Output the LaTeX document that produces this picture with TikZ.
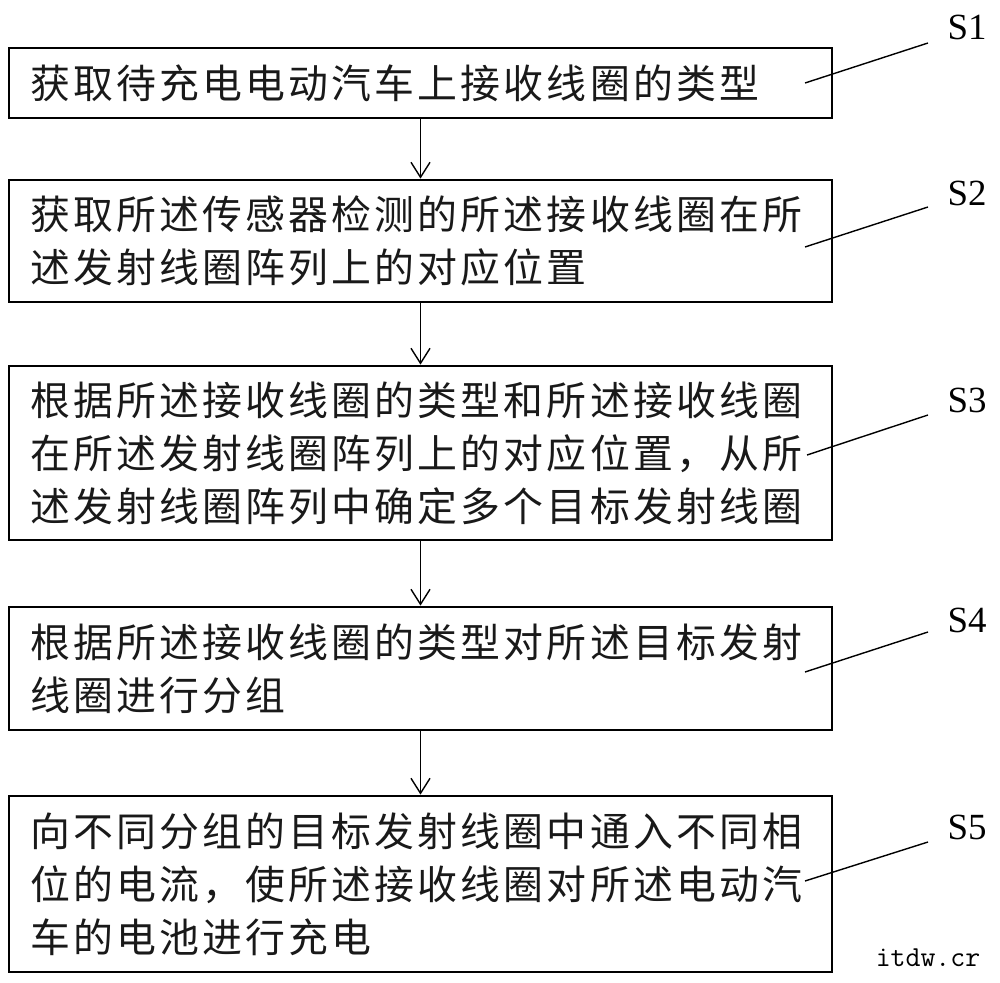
\documentclass[tikz,border=0pt]{standalone}
\usepackage{fontspec}
\setmainfont{Liberation Serif}
\newfontfamily\cjk[LetterSpace=8]{Noto Sans CJK SC}
\usetikzlibrary{arrows.meta}
\tikzset{
  stepbox/.style={draw=black, line width=1.6pt, rectangle, minimum width=16.46cm,
    text width=15.62cm, inner xsep=0.42cm, inner ysep=0pt, align=left,
    font=\cjk\fontsize{22.7}{30.1}\selectfont, text=black!90},
  flow/.style={line width=0.8pt, -{Straight Barb[length=0.3cm,width=0.38cm,line width=0.8pt]}},
  leader/.style={line width=0.8pt},
  steplabel/.style={font=\fontsize{21}{23}\selectfont, inner sep=0pt},
  wmark/.style={font=\ttfamily\fontsize{16.5}{18}\selectfont, inner sep=0pt}
}
\begin{document}
\begin{tikzpicture}[x=0.02cm, y=-0.02cm]
\useasboundingbox (0,0) rectangle (1000,983);

\node[stepbox, minimum height=1.4cm] (b1) at (420.5,83)
  {获取待充电电动汽车上接收线圈的类型};
\node[stepbox, minimum height=2.44cm] (b2) at (420.5,241)
  {获取所述传感器检测的所述接收线圈在所\\述发射线圈阵列上的对应位置};
\node[stepbox, minimum height=3.48cm] (b3) at (420.5,453)
  {根据所述接收线圈的类型和所述接收线圈\\在所述发射线圈阵列上的对应位置，从所\\述发射线圈阵列中确定多个目标发射线圈};
\node[stepbox, minimum height=2.46cm] (b4) at (420.5,668.5)
  {根据所述接收线圈的类型对所述目标发射\\线圈进行分组};
\node[stepbox, minimum height=3.52cm] (b5) at (420.5,884)
  {向不同分组的目标发射线圈中通入不同相\\位的电流，使所述接收线圈对所述电动汽\\车的电池进行充电};

\draw[flow] (b1.south) -- (b2.north);
\draw[flow] (b2.south) -- (b3.north);
\draw[flow] (b3.south) -- (b4.north);
\draw[flow] (b4.south) -- (b5.north);

\node[steplabel] (l1) at (967,27) {S1};
\node[steplabel] (l2) at (967,193) {S2};
\node[steplabel] (l3) at (967,400) {S3};
\node[steplabel] (l4) at (967,620) {S4};
\node[steplabel] (l5) at (967,827) {S5};

\coordinate (a1) at (805,83);  \coordinate (e1) at (928,43);
\coordinate (a2) at (805,247); \coordinate (e2) at (928,207);
\coordinate (a3) at (807,455); \coordinate (e3) at (928,415);
\coordinate (a4) at (805,672); \coordinate (e4) at (928,632);
\coordinate (a5) at (805,881); \coordinate (e5) at (928,842);
\draw[leader] (a1) -- (e1);
\draw[leader] (a2) -- (e2);
\draw[leader] (a3) -- (e3);
\draw[leader] (a4) -- (e4);
\draw[leader] (a5) -- (e5);

\node[wmark] (wm) at (928,958) {itdw.cr};
\end{tikzpicture}
\end{document}
